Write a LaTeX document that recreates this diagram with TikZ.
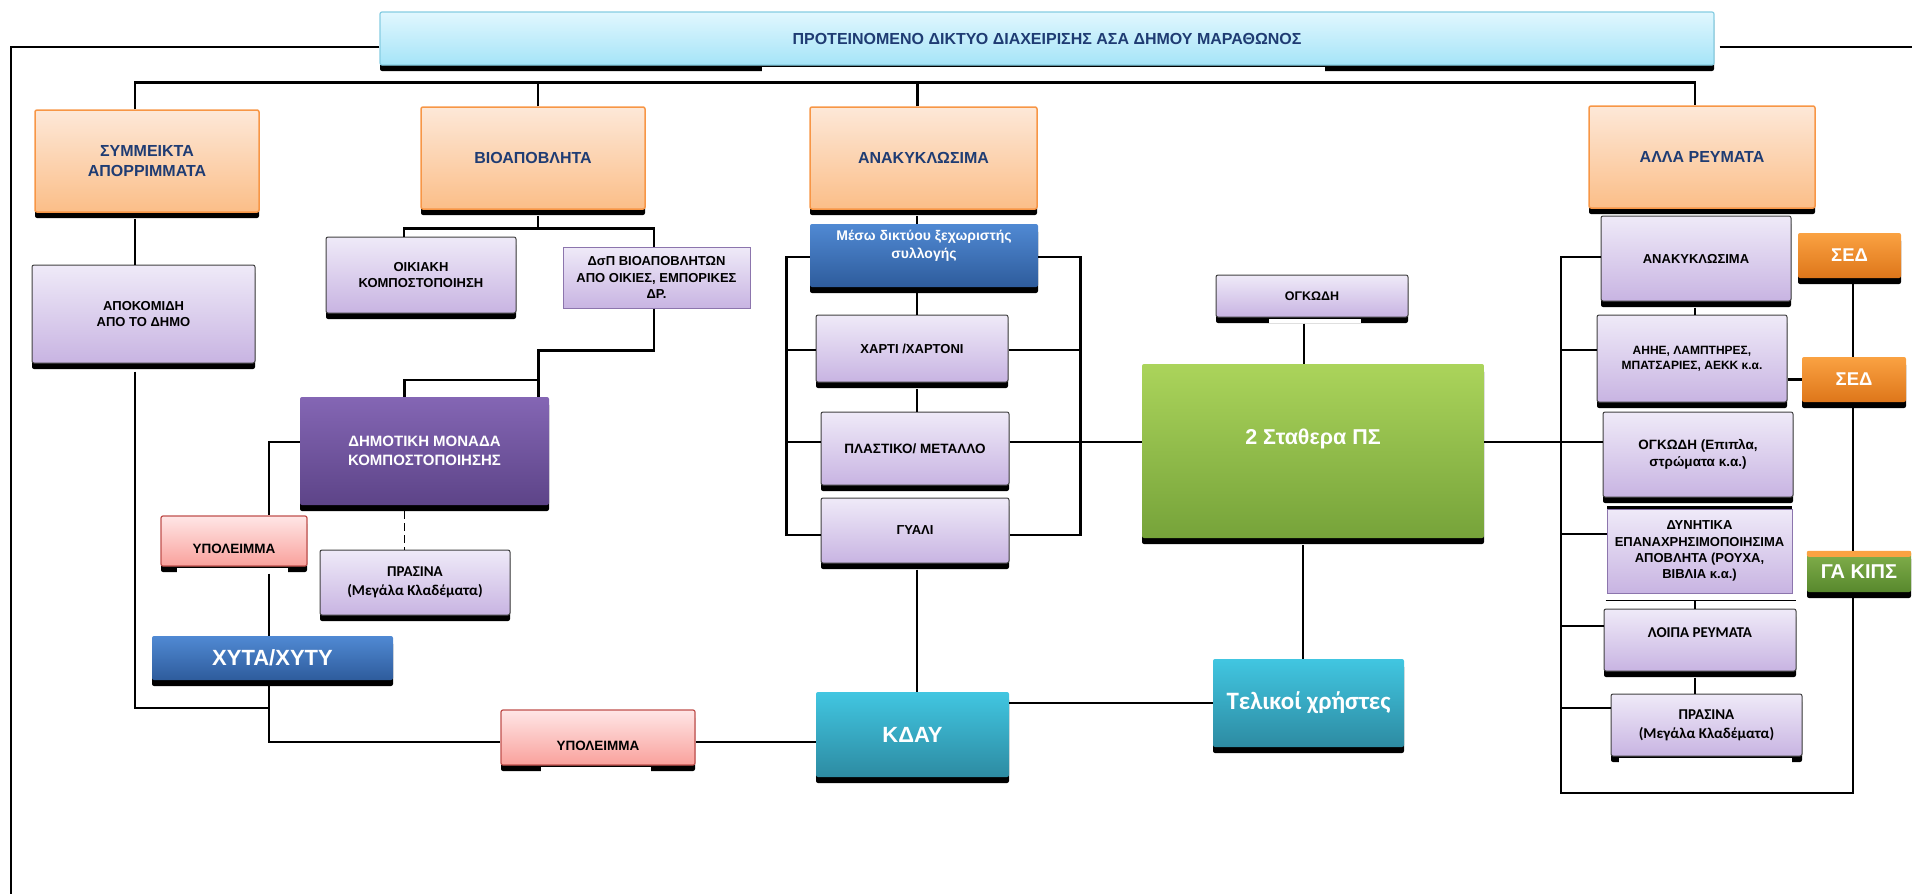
\documentclass[tikz,border=0pt]{standalone}
\usepackage{fontspec}
\setmainfont{Liberation Sans}
\newfontfamily\calibrifont{Carlito}
\usetikzlibrary{calc, shadows}

\definecolor{titletop}{HTML}{E1F7FE}
\definecolor{titlebot}{HTML}{A5E4F8}
\definecolor{titleline}{HTML}{86CDE2}
\definecolor{navytext}{HTML}{1F3C73}
\definecolor{orangetop}{HTML}{FDE8D8}
\definecolor{orangebot}{HTML}{FBBE88}
\definecolor{orangeline}{HTML}{F79646}
\definecolor{lilactop}{HTML}{EFEAF8}
\definecolor{lilacbot}{HTML}{C8B4E2}
\definecolor{lilacline}{HTML}{8C75AD}
\definecolor{plumtop}{HTML}{8466B4}
\definecolor{plumbot}{HTML}{5D4488}
\definecolor{pinktop}{HTML}{FFE6E6}
\definecolor{pinkbot}{HTML}{F9A19C}
\definecolor{pinkline}{HTML}{C0504D}
\definecolor{bluetop}{HTML}{5089D3}
\definecolor{bluebot}{HTML}{2E5C9C}
\definecolor{tealtop}{HTML}{41C6E1}
\definecolor{tealbot}{HTML}{2D8BA2}
\definecolor{greentop}{HTML}{ABD45B}
\definecolor{greenbot}{HTML}{76A33A}
\definecolor{sedtop}{HTML}{FAA242}
\definecolor{sedbot}{HTML}{DE761A}
\definecolor{kipstop}{HTML}{82B04C}
\definecolor{kipsbot}{HTML}{58882D}

\tikzset{
    gsize/.style = {font = \fontsize{#1}{\dimexpr #1pt*5/4\relax}\selectfont\bfseries},
    csize/.style = {font = \calibrifont\fontsize{#1}{\dimexpr #1pt*5/4\relax}\selectfont\bfseries},
    box/.style = {rectangle, rounded corners = 2pt, inner sep = 1pt, align = center,
        drop shadow = {shadow xshift = 0pt, shadow yshift = -6pt, opacity = 1, fill = black}},
    titlebox/.style = {box, draw = titleline, line width = 1.2pt, top color = titletop, bottom color = titlebot, text = navytext},
    streambox/.style = {box, draw = orangeline, line width = 1.5pt, top color = orangetop, bottom color = orangebot, text = navytext},
    lilacbox/.style = {box, draw = black!75, line width = 1pt, top color = lilactop, bottom color = lilacbot},
    plainlilac/.style = {rectangle, align = center, inner sep = 0pt, draw = lilacline, line width = 1pt, top color = lilactop, bottom color = lilacbot},
    plumbox/.style = {box, top color = plumtop, bottom color = plumbot, text = white},
    residuebox/.style = {box, draw = pinkline, line width = 1.2pt, top color = pinktop, bottom color = pinkbot},
    bluebox/.style = {box, top color = bluetop, bottom color = bluebot, text = white},
    tealbox/.style = {box, top color = tealtop, bottom color = tealbot, text = white},
    greenbox/.style = {box, top color = greentop, bottom color = greenbot, text = white},
    sedbox/.style = {box, top color = sedtop, bottom color = sedbot, text = white},
    kipsbox/.style = {box, top color = kipstop, bottom color = kipsbot, text = white},
    link/.style = {black, line width = 2.6pt},
    thinlink/.style = {black, line width = 1.6pt},
}

\begin{document}
\begin{tikzpicture}[x = 1pt, y = -1pt]
    \useasboundingbox (0, 0) rectangle (1912, 894);

    \coordinate (leftend) at (11, 894);
    \coordinate (rightend) at (1912, 47);
    \coordinate (rbottom) at (1561, 793);

    \node[titlebox, gsize = 16, minimum width = 1334, minimum height = 53] (title) at (1047, 38.5) {ΠΡΟΤΕΙΝΟΜΕΝΟ ΔΙΚΤΥΟ ΔΙΑΧΕΙΡΙΣΗΣ ΑΣΑ ΔΗΜΟΥ ΜΑΡΑΘΩΝΟΣ};
    \fill[white] ($(title.south west) + (383, 1)$) rectangle ($(title.south west) + (946, 7)$);

    \node[streambox, gsize = 16, minimum width = 224, minimum height = 102] (symm) at (147, 161) {ΣΥΜΜΕΙΚΤΑ\\ΑΠΟΡΡΙΜΜΑΤΑ};
    \node[streambox, gsize = 16, minimum width = 224, minimum height = 102] (bio) at (533, 158) {ΒΙΟΑΠΟΒΛΗΤΑ};
    \node[streambox, gsize = 16, minimum width = 227, minimum height = 102] (anak) at (923.5, 158) {ΑΝΑΚΥΚΛΩΣΙΜΑ};
    \node[streambox, gsize = 16, minimum width = 226, minimum height = 102] (alla) at (1702, 157) {ΑΛΛΑ ΡΕΥΜΑΤΑ};

    \node[lilacbox, gsize = 13, minimum width = 223, minimum height = 98] (apok) at (143.5, 314) {ΑΠΟΚΟΜΙΔΗ\\ΑΠΟ ΤΟ ΔΗΜΟ};
    \node[lilacbox, gsize = 13, minimum width = 190, minimum height = 76] (oikiaki) at (421, 275) {ΟΙΚΙΑΚΗ\\ΚΟΜΠΟΣΤΟΠΟΙΗΣΗ};
    \node[plainlilac, gsize = 13, minimum width = 187, minimum height = 61] (dsp) at (656.5, 277.5) {ΔσΠ ΒΙΟΑΠΟΒΛΗΤΩΝ\\ΑΠΟ ΟΙΚΙΕΣ, ΕΜΠΟΡΙΚΕΣ\\ΔΡ.};
    \node[plumbox, gsize = 15, minimum width = 249, minimum height = 108] (dimotiki) at (424.5, 451) {ΔΗΜΟΤΙΚΗ ΜΟΝΑΔΑ\\ΚΟΜΠΟΣΤΟΠΟΙΗΣΗΣ};
    \node[residuebox, gsize = 13.5, text height = 26pt, minimum width = 146, minimum height = 50] (ypol1) at (234, 541) {ΥΠΟΛΕΙΜΜΑ};
    \fill[white] ($(ypol1.south west) + (17, 1)$) rectangle ($(ypol1.south west) + (128, 7)$);
    \node[lilacbox, csize = 15, minimum width = 190, minimum height = 65] (prasina1) at (415, 582.5) {ΠΡΑΣΙΝΑ\\(Μεγάλα Κλαδέματα)};
    \node[bluebox, gsize = 22, minimum width = 241, minimum height = 44] (xyta) at (272.5, 658) {ΧΥΤΑ/ΧΥΤΥ};
    \node[residuebox, gsize = 13.5, text height = 27pt, minimum width = 194, minimum height = 55] (ypol2) at (598, 737.5) {ΥΠΟΛΕΙΜΜΑ};
    \fill[white] ($(ypol2.south west) + (41, 1)$) rectangle ($(ypol2.south west) + (151, 7)$);

    \node[bluebox, gsize = 14, text depth = 22pt, minimum width = 228, minimum height = 63] (meso) at (924, 255.5) {Μέσω δικτύου ξεχωριστής\\συλλογής};
    \node[lilacbox, gsize = 13, minimum width = 192, minimum height = 67] (xarti) at (912, 348.5) {ΧΑΡΤΙ /ΧΑΡΤΟΝΙ};
    \node[lilacbox, gsize = 13.5, minimum width = 188, minimum height = 73] (plast) at (915, 448.5) {ΠΛΑΣΤΙΚΟ/ ΜΕΤΑΛΛΟ};
    \node[lilacbox, gsize = 13, minimum width = 188, minimum height = 65] (gyali) at (915, 530.5) {ΓΥΑΛΙ};
    \node[tealbox, gsize = 22, minimum width = 193, minimum height = 85] (kday) at (912.5, 734.5) {ΚΔΑΥ};

    \node[lilacbox, gsize = 12.5, minimum width = 192, minimum height = 42] (ogk1) at (1312, 296) {ΟΓΚΩΔΗ};
    \fill[white] ($(ogk1.south west) + (53, 1)$) rectangle ($(ogk1.south west) + (145, 5)$);
    \node[greenbox, gsize = 21.5, text depth = 28pt, minimum width = 342, minimum height = 174] (stath) at (1313, 451) {2 Σταθερα ΠΣ};
    \node[tealbox, csize = 25, minimum width = 191, minimum height = 88] (telikoi) at (1308.5, 703) {Τελικοί χρήστες};

    \node[lilacbox, gsize = 13, minimum width = 190, minimum height = 85] (anak2) at (1696, 258.5) {ΑΝΑΚΥΚΛΩΣΙΜΑ};
    \node[lilacbox, gsize = 12, minimum width = 190, minimum height = 87] (ahhe) at (1692, 358.5) {ΑΗΗΕ, ΛΑΜΠΤΗΡΕΣ,\\ΜΠΑΤΣΑΡΙΕΣ, ΑΕΚΚ κ.α.};
    \node[lilacbox, gsize = 13.5, minimum width = 190, minimum height = 85] (ogk2) at (1698, 454.5) {ΟΓΚΩΔΗ (Επιπλα,\\στρώματα κ.α.)};
    \node[plainlilac, gsize = 13, minimum width = 185, minimum height = 84,
        drop shadow = {shadow xshift = 0pt, shadow yshift = 3pt, opacity = 1, fill = black}] (dyn) at (1699.5, 551) {ΔΥΝΗΤΙΚΑ\\ΕΠΑΝΑΧΡΗΣΙΜΟΠΟΙΗΣΙΜΑ\\ΑΠΟΒΛΗΤΑ (ΡΟΥΧΑ,\\ΒΙΒΛΙΑ κ.α.)};
    \draw[black, line width = 1pt] ($(dyn.south west) + (-1, 7)$) -- ($(dyn.south east) + (3, 7)$);
    \node[lilacbox, csize = 15, text depth = 14pt, minimum width = 192, minimum height = 62] (loipa) at (1700, 640) {ΛΟΙΠΑ ΡΕΥΜΑΤΑ};
    \node[lilacbox, csize = 15, minimum width = 191, minimum height = 62] (prasina2) at (1706.5, 725) {ΠΡΑΣΙΝΑ\\(Μεγάλα Κλαδέματα)};
    \fill[white] ($(prasina2.south west) + (8, 1)$) rectangle ($(prasina2.south west) + (181, 6)$);

    \node[sedbox, gsize = 18.5, minimum width = 103, minimum height = 45] (sed1) at (1849.5, 255.5) {ΣΕΔ};
    \node[sedbox, gsize = 18.5, minimum width = 104, minimum height = 45] (sed2) at (1854, 379.5) {ΣΕΔ};
    \node[kipsbox, gsize = 20, minimum width = 104, minimum height = 41] (gakips) at (1859, 571.5) {ΓΑ ΚΙΠΣ};
    \fill[sedtop, rounded corners = 2pt] (gakips.north west) rectangle ($(gakips.north east) + (0, 6)$);

    \draw[link] ($(title.west) + (0, 8.5)$) -| (leftend);
    \draw[link] ($(title.east) + (5, 8.5)$) -- (rightend);
    \draw[link] ($(symm.north) + (-12, 0)$) -- ++(0, -27) -| ($(alla.north) + (-7, 0)$);
    \draw[link] ($(bio.north) + (5, 0)$) -- ++(0, -24);
    \draw[link] ($(anak.north) + (-6, 0)$) -- ++(0, -24);

    \draw[link] ($(symm.south) + (-12, 6)$) -- ($(apok.north) + (-8.5, 0)$);
    \draw[thinlink] ($(apok.south) + (-8.5, 8)$) |- ($(xyta.south) + (-3.5, 28)$);

    \draw[link] ($(bio.south) + (5, 6)$) -- ++(0, 13) coordinate (biosplit);
    \draw[link] ($(oikiaki.north) + (-17, 0)$) |- (biosplit) -| ($(dsp.north) + (-2.5, 0)$);
    \draw[link] ($(dsp.south) + (-2.5, 0)$) -- ++(0, 42) -| ($(dimotiki.north) + (114, 0)$);
    \draw[link] ($(dimotiki.north) + (-20, 0)$) -- ++(0, -17) -- ++(134, 0);
    \draw[thinlink] ($(dimotiki.west) + (0, -9)$) -| ($(ypol1.north) + (35, 0)$);
    \draw[thinlink] ($(ypol1.south) + (35, 7)$) -- ($(xyta.north) + (-3.5, 0)$);
    \draw[thinlink] ($(xyta.south) + (-3.5, 6)$) |- ($(ypol2.west) + (0, 4.5)$);
    \draw[thinlink, dash pattern = on 8pt off 4pt] ($(dimotiki.south) + (-20, 6)$) -- ($(prasina1.north) + (-10.5, 0)$);
    \draw[link] ($(ypol2.east) + (0, 4.5)$) -- ($(kday.west) + (0, 7.5)$);

    \draw[thinlink] ($(anak.south) + (-6.5, 6)$) -- ($(meso.north) + (-7, 0)$);
    \draw[thinlink] ($(xarti.north) + (5, 0)$) -- ($(meso.south) + (-7, 6)$);
    \draw[thinlink] ($(plast.north) + (2, 0)$) -- ($(xarti.south) + (5, 6)$);
    \draw[thinlink] ($(gyali.south) + (2, 6)$) -- ($(kday.north) + (4.5, 0)$);
    \draw[link] ($(meso.west) + (0, 1.5)$) -| ($(gyali.west) + (-34, 4.5)$) coordinate (lspine) -- ($(gyali.west) + (0, 4.5)$);
    \draw[link] ($(xarti.west) + (0, 1.5)$) -- ($(xarti.west) + (-29, 1.5)$);
    \draw[link] ($(plast.west) + (0, -6.5)$) -- ($(plast.west) + (-34, -6.5)$);
    \draw[link] ($(meso.east) + (0, 1.5)$) -| ($(gyali.east) + (71, 4.5)$) coordinate (rspine) -- ($(gyali.east) + (0, 4.5)$);
    \draw[link] ($(xarti.east) + (0, 1.5)$) -- ($(xarti.east) + (72, 1.5)$);
    \draw[link] ($(plast.east) + (0, -6.5)$) -- ($(stath.west) + (0, -9)$);
    \draw[link] (telikoi.west) -- (telikoi.west -| kday.east);

    \draw[thinlink] ($(ogk1.south) + (-8, 6)$) -- ($(stath.north) + (-9, 0)$);
    \draw[thinlink] ($(stath.south) + (-10, 7)$) -- ($(telikoi.north) + (-5.5, 0)$);
    \draw[link] ($(stath.east) + (0, -9)$) -- ($(ogk2.west) + (0, -12.5)$);

    \draw[link] ($(anak2.west) + (0, -1.5)$) -| (rbottom) -| ($(gakips.south) + (-6, 6)$);
    \draw[link] ($(ahhe.west) + (0, -8.5)$) -- ++(-36, 0);
    \draw[link] ($(dyn.west) + (0, -17)$) -- ++(-46, 0);
    \draw[link] ($(loipa.west) + (0, -14)$) -- ++(-43, 0);
    \draw[link] ($(prasina2.west) + (0, -17)$) -- ++(-50, 0);
    \draw[thinlink] ($(sed1.south) + (3.5, 6)$) -- ($(sed2.north) + (-1, 0)$);
    \draw[thinlink] ($(sed2.south) + (-1, 6)$) -- ($(gakips.north) + (-6, 0)$);
    \draw[link] (sed2.west) -- (sed2.west -| ahhe.east);
    \draw[thinlink] ($(anak2.south) + (-1, 6)$) -- ($(ahhe.north) + (3, 0)$);
    \draw[thinlink] ($(dyn.south) + (-4.5, 7)$) -- ($(loipa.north) + (-5, 0)$);
    \draw[thinlink] ($(loipa.south) + (-5, 6)$) -- ($(prasina2.north) + (-11.5, 0)$);
\end{tikzpicture}
\end{document}
